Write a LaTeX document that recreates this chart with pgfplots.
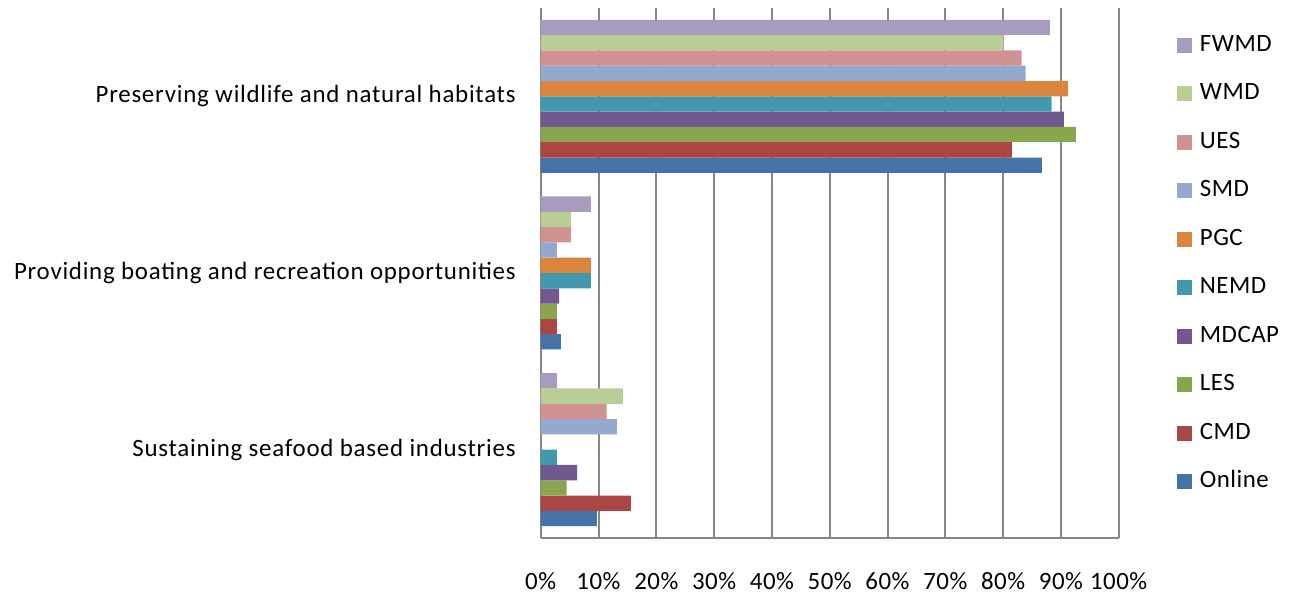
\documentclass[border=0pt]{standalone}
\usepackage{pgfplots}
\pgfplotsset{compat=1.18}
\usepackage{fontspec}
\setmainfont{Carlito}

\definecolor{cOnline}{HTML}{4572A7}
\definecolor{cCMD}{HTML}{AA4643}
\definecolor{cLES}{HTML}{89A54E}
\definecolor{cMDCAP}{HTML}{71588F}
\definecolor{cNEMD}{HTML}{4198AF}
\definecolor{cPGC}{HTML}{DB843D}
\definecolor{cSMD}{HTML}{93A9CF}
\definecolor{cUES}{HTML}{D19392}
\definecolor{cWMD}{HTML}{B9CD96}
\definecolor{cFWMD}{HTML}{A99BBD}
\definecolor{gridgray}{HTML}{868686}

\pgfplotsset{
  sq/.style={fill=#1, draw=none,
    legend image code/.code={\fill[##1] (0bp,-3.75bp) rectangle (7.5bp,3.75bp);}},
}

\begin{document}
\begin{tikzpicture}
\useasboundingbox (0,0) rectangle (646.5bp,298.5bp);
\begin{axis}[
  at={(270.35bp,29.5bp)}, anchor=south west,
  scale only axis,
  width=289bp, height=265bp,
  xbar=0pt,
  bar width=7.65bp,
  xmin=0, xmax=1,
  ymin=-0.5, ymax=2.5,
  xtick={0,0.1,...,1.01},
  xticklabels={0\%,10\%,20\%,30\%,40\%,50\%,60\%,70\%,80\%,90\%,100\%},
  ytick={0,1,2},
  yticklabels={Sustaining seafood based industries, Providing boating and recreation opportunities, Preserving wildlife and natural habitats},
  axis x line*=bottom,
  axis y line*=left,
  axis line style={gridgray, line width=1bp, -},
  major tick length=0pt,
  xmajorgrids,
  grid style={gridgray, line width=1bp},
  tick label style={font=\fontsize{12.5}{14}\selectfont\addfontfeatures{LetterSpace=2}, text=black},
  xticklabel style={anchor=north, yshift=-13.5bp},
  yticklabel style={anchor=east, xshift=-9bp, font=\fontsize{12.5}{14}\selectfont\addfontfeatures{LetterSpace=3}},
  legend style={
    at={(1.1,1)}, anchor=north west, yshift=-13.5bp,
    draw=none, fill=none, inner sep=0pt,
    font=\fontsize{12.5}{14}\selectfont\addfontfeatures{LetterSpace=2},
    row sep=14.25bp,
    nodes={inner sep=0pt, text height=8bp, text depth=2bp},
    /tikz/every odd column/.append style={column sep=4bp},
  },
  legend cell align=left,
  reverse legend,
]
\addplot[sq=cOnline] coordinates {(0.097,0) (0.035,1) (0.867,2)};
\addplot[sq=cCMD]    coordinates {(0.156,0) (0.028,1) (0.815,2)};
\addplot[sq=cLES]    coordinates {(0.045,0) (0.028,1) (0.926,2)};
\addplot[sq=cMDCAP]  coordinates {(0.063,0) (0.032,1) (0.905,2)};
\addplot[sq=cNEMD]   coordinates {(0.028,0) (0.087,1) (0.884,2)};
\addplot[sq=cPGC]    coordinates {(0,0) (0.087,1) (0.912,2)};
\addplot[sq=cSMD]    coordinates {(0.132,0) (0.028,1) (0.839,2)};
\addplot[sq=cUES]    coordinates {(0.114,0) (0.052,1) (0.832,2)};
\addplot[sq=cWMD]    coordinates {(0.142,0) (0.052,1) (0.801,2)};
\addplot[sq=cFWMD]   coordinates {(0.028,0) (0.087,1) (0.881,2)};
\legend{Online,CMD,LES,MDCAP,NEMD,PGC,SMD,UES,WMD,FWMD}
\end{axis}
\end{tikzpicture}
\end{document}
